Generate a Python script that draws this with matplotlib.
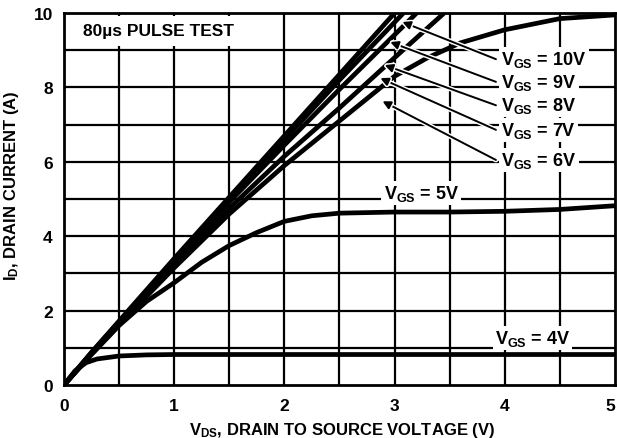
import matplotlib
matplotlib.use("Agg")
import matplotlib.pyplot as plt
import matplotlib.patheffects as pe

plt.rcParams['font.family'] = ['Liberation Sans', 'DejaVu Sans']
plt.rcParams['font.weight'] = 'bold'
plt.rcParams['axes.labelweight'] = 'bold'
plt.rcParams['mathtext.fontset'] = 'custom'
plt.rcParams['mathtext.rm'] = 'Liberation Sans:bold'
plt.rcParams['mathtext.it'] = 'Liberation Sans:bold'
plt.rcParams['mathtext.bf'] = 'Liberation Sans:bold'
plt.rcParams['mathtext.default'] = 'rm'

# ---- data ----
vgs10_x = [0, 0.25, 0.5, 1.0, 1.5, 2.0, 2.5, 3.0]
vgs10_y = [0, 0.88, 1.72, 3.4, 5.05, 6.7, 8.35, 10.0]
vgs9_x = [0, 0.25, 0.5, 1.0, 1.5, 2.0, 2.5, 3.08]
vgs9_y = [0, 0.87, 1.7, 3.36, 5.0, 6.6, 8.2, 10.0]
vgs8_x = [0, 0.25, 0.5, 1.0, 1.5, 2.0, 2.5, 3.2]
vgs8_y = [0, 0.86, 1.68, 3.32, 4.92, 6.45, 7.95, 10.0]
vgs7_x = [0, 0.25, 0.5, 1.0, 1.5, 2.0, 2.5, 3.0, 3.45]
vgs7_y = [0, 0.85, 1.65, 3.22, 4.75, 6.15, 7.45, 8.8, 10.0]
vgs6_x = [0, 0.25, 0.5, 1.0, 1.5, 2.0, 2.5, 3.0, 3.3, 3.6, 4.0, 4.5, 5.0]
vgs6_y = [0, 0.84, 1.62, 3.15, 4.6, 5.9, 7.1, 8.3, 8.8, 9.2, 9.55, 9.85, 9.95]
vgs5_x = [0, 0.25, 0.5, 0.75, 1.0, 1.25, 1.5, 1.75, 2.0, 2.25, 2.5, 3.0, 3.5, 4.0, 4.5, 5.0]
vgs5_y = [0, 0.82, 1.6, 2.25, 2.75, 3.3, 3.75, 4.1, 4.4, 4.55, 4.62, 4.65, 4.65, 4.67, 4.72, 4.82]
vgs4_x = [0, 0.1, 0.2, 0.3, 0.5, 0.75, 1.0, 2.0, 3.0, 4.0, 5.0]
vgs4_y = [0, 0.38, 0.6, 0.7, 0.78, 0.81, 0.82, 0.82, 0.82, 0.82, 0.82]

labels = ["$V_{GS}$ = 10V", "$V_{GS}$ = 9V", "$V_{GS}$ = 8V", "$V_{GS}$ = 7V", "$V_{GS}$ = 6V"]
label_pos = [(3.97, 8.76), (3.97, 8.15), (3.97, 7.52), (3.97, 6.86), (3.97, 6.05)]
arrow_tips = [(3.07, 9.76), (2.96, 9.22), (2.91, 8.6), (2.87, 8.25), (2.89, 7.63)]

x_ticks = [0, 1, 2, 3, 4, 5]
y_ticks = [0, 2, 4, 6, 8, 10]

fig = plt.figure(figsize=(6.17, 4.39), dpi=100)
ax = fig.add_axes([0.1037, 0.1207, 0.893, 0.8473])
ax.set_xlim(0, 5)
ax.set_ylim(0, 10)

# grid
for gx in [0.5 * i for i in range(1, 10)]:
    ax.axvline(gx, color='black', lw=1.6, zorder=1)
for gy in range(1, 10):
    ax.axhline(gy, color='black', lw=1.6, zorder=1)

for xs, ys in [(vgs10_x, vgs10_y), (vgs9_x, vgs9_y), (vgs8_x, vgs8_y),
               (vgs7_x, vgs7_y), (vgs6_x, vgs6_y), (vgs5_x, vgs5_y), (vgs4_x, vgs4_y)]:
    ax.plot(xs, ys, color='black', lw=3.4, solid_capstyle='butt', zorder=3)

white = [pe.Stroke(linewidth=3.5, foreground='white'), pe.Normal()]
for lab, pos, tip in zip(labels, label_pos, arrow_tips):
    ax.annotate('', xy=tip, xytext=(pos[0] - 0.05, pos[1]),
                arrowprops=dict(arrowstyle='-|>', lw=1.4, color='black',
                                mutation_scale=12, shrinkA=0, shrinkB=0,
                                path_effects=white), zorder=4)
for lab, pos in zip(labels, label_pos):
    ax.text(pos[0], pos[1], lab, fontsize=13, ha='left', va='center',
            zorder=5, bbox=dict(facecolor='white', edgecolor='none', pad=1.5))

ax.text(2.9, 5.17, "$V_{GS}$ = 5V", fontsize=13, ha='left', va='center', zorder=5,
        bbox=dict(facecolor='white', edgecolor='none', pad=1.5))
ax.text(3.91, 1.27, "$V_{GS}$ = 4V", fontsize=13, ha='left', va='center', zorder=5,
        bbox=dict(facecolor='white', edgecolor='none', pad=1.5))
ax.text(0.17, 9.52, "80\u00b5s PULSE TEST", fontsize=12.5, ha='left', va='center', zorder=5,
        bbox=dict(facecolor='white', edgecolor='none', boxstyle='square,pad=0.45'))

for s in ax.spines.values():
    s.set_linewidth(2)
    s.set_zorder(6)
ax.set_xticks(x_ticks)
ax.set_yticks(y_ticks)
ax.tick_params(length=0, labelsize=12.5)
ax.tick_params(axis='x', pad=9)
ax.tick_params(axis='y', pad=8)
for t in ax.get_xticklabels() + ax.get_yticklabels():
    t.set_fontweight('bold')
ax.get_xticklabels()[-1].set_horizontalalignment('right')
ax.set_xlabel("$V_{DS}$, DRAIN TO SOURCE VOLTAGE (V)", fontsize=12, fontweight='bold')
ax.set_ylabel("$I_D$, DRAIN CURRENT (A)", fontsize=12, fontweight='bold')
ax.xaxis.set_label_coords(0.505, -0.095)
ax.yaxis.set_label_coords(-0.078, 0.537)

fig.savefig("out.png", dpi=100)
